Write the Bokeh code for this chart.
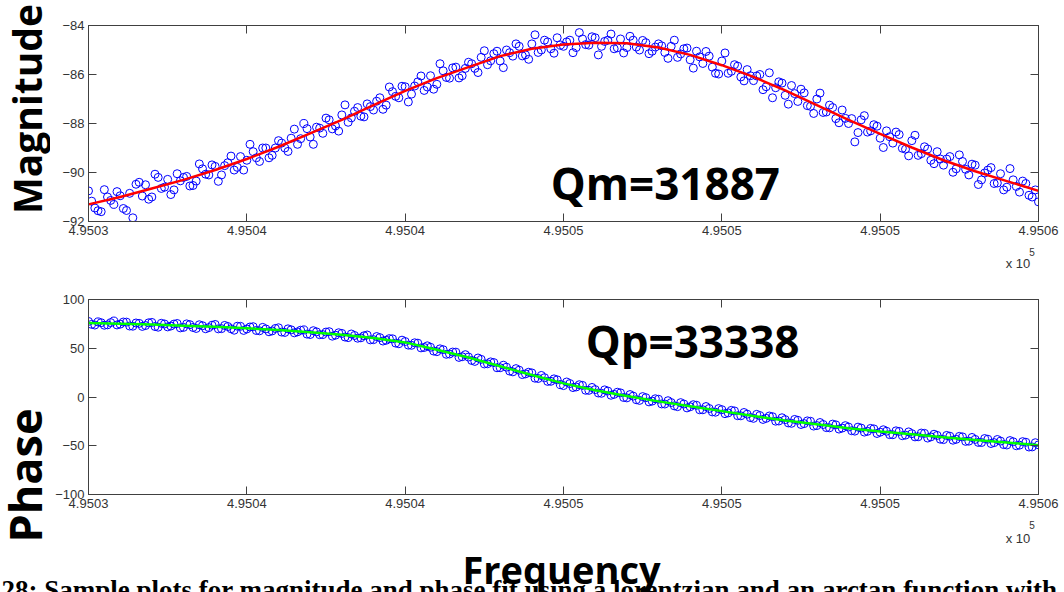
import math
from bokeh.plotting import figure
from bokeh.layouts import column, row
from bokeh.models import FixedTicker, LinearAxis, Label, Range1d
from bokeh.embed import file_html
from bokeh.resources import INLINE

# ---------------- data ----------------
tick_values = [495030, 495035, 495040, 495045, 495050, 495055, 495060]
tick_labels = ["4.9503", "4.9504", "4.9504", "4.9505", "4.9505", "4.9505", "4.9506"]
mag_ticks = [-92, -90, -88, -86, -84]
phase_ticks = [-100, -50, 0, 50, 100]

fit_freq = [495030 + i for i in range(31)]
mag_fit = [-91.30, -91.00, -90.65, -90.30, -89.90, -89.45, -88.95, -88.40, -87.85, -87.25,
           -86.67, -86.15, -85.70, -85.25, -84.95, -84.78, -84.70, -84.72, -84.90, -85.20,
           -85.62, -86.10, -86.65, -87.25, -87.85, -88.42, -88.98, -89.50, -89.95, -90.35,
           -90.75]
phase_fit = [76.0, 75.2, 74.3, 73.2, 72.0, 70.5, 68.7, 66.5, 63.8, 60.5,
             56.0, 48.5, 40.5, 31.5, 22.5, 14.0, 7.0, 1.0, -4.5, -9.5,
             -14.5, -19.5, -24.0, -28.0, -32.0, -35.5, -38.3, -41.3, -44.0, -46.7,
             -49.5]

# measured samples (two interleaved sweeps)
freq_a = [495030 + 0.2 * i for i in range(151)]
freq_b = [495030.1 + 0.2 * i for i in range(150)]

mag_a = [
    -90.75, -91.45, -91.60, -91.00, -91.30, -90.95, -91.55, -91.85, -90.40, -90.50,
    -91.00, -90.20, -90.60, -90.90, -90.05, -90.20, -90.55, -90.35, -89.85, -90.10,
    -89.75, -90.10, -89.60, -89.90, -89.35, -89.50, -89.15, -89.55, -89.00, -89.30,
    -88.70, -89.00, -88.60, -88.85, -88.00, -88.55, -88.15, -88.40, -87.85, -88.10,
    -87.65, -87.95, -87.50, -87.70, -87.20, -87.45, -86.95, -87.25, -86.70, -86.95,
    -86.50, -86.80, -86.30, -86.65, -86.05, -86.40, -85.85, -86.15, -85.70, -86.05,
    -85.50, -85.75, -85.30, -85.60, -85.15, -85.45, -85.00, -85.25, -84.85, -85.20,
    -84.75, -85.10, -84.60, -84.95, -84.50, -84.85, -84.60, -84.90, -84.55, -84.80,
    -84.50, -84.85, -84.60, -84.95, -84.55, -84.90, -84.60, -85.00, -84.70, -85.05,
    -84.75, -85.10, -84.85, -85.30, -84.95, -85.40, -85.05, -85.55, -85.25, -85.95,
    -85.45, -85.95, -85.60, -86.10, -85.80, -86.25, -86.00, -86.50, -86.95, -86.30,
    -86.85, -86.45, -87.10, -86.75, -87.30, -87.00, -87.55, -87.25, -87.80, -87.45,
    -88.00, -88.75, -87.85, -88.35, -88.05, -88.60, -88.30, -88.80, -88.45, -89.05,
    -88.70, -89.30, -88.95, -89.50, -89.15, -89.70, -89.35, -89.85, -89.55, -90.10,
    -89.70, -90.30, -89.90, -90.45, -90.05, -90.60, -90.30, -90.80, -90.45, -91.00,
    -91.20]
mag_b = [
    -91.17, -91.56, -90.70, -91.14, -90.78, -91.47, -90.85, -90.48, -90.96, -91.09,
    -90.07, -90.65, -90.28, -90.71, -90.34, -90.16, -90.53, -89.65, -90.07, -89.69,
    -90.36, -89.72, -89.33, -89.79, -89.90, -88.85, -89.40, -89.00, -89.40, -89.00,
    -88.80, -89.14, -88.23, -88.62, -88.21, -88.85, -88.19, -87.78, -88.22, -88.31,
    -87.24, -87.77, -87.35, -87.73, -87.31, -87.09, -87.42, -86.51, -86.89, -86.48,
    -87.12, -86.47, -86.06, -86.51, -86.60, -85.56, -86.12, -85.73, -86.14, -85.75,
    -85.56, -85.92, -85.03, -85.44, -85.05, -85.72, -85.11, -84.75, -85.24, -85.38,
    -84.38, -85.00, -84.67, -85.13, -84.80, -84.67, -85.11, -84.29, -84.78, -84.46,
    -85.20, -84.65, -84.35, -84.91, -85.12, -84.44, -84.88, -84.61, -85.15, -84.88,
    -84.83, -85.34, -84.60, -85.16, -84.92, -85.74, -85.28, -85.06, -85.70, -85.98,
    -85.12, -85.87, -85.66, -86.26, -86.05, -86.06, -86.62, -85.93, -86.54, -86.35,
    -87.21, -86.78, -86.60, -87.27, -87.59, -86.76, -87.53, -87.35, -87.97, -87.79,
    -87.80, -88.37, -87.68, -88.30, -88.11, -88.98, -88.54, -88.35, -89.01, -89.32,
    -88.48, -89.23, -89.04, -89.64, -89.45, -89.45, -89.99, -89.28, -89.87, -89.66,
    -90.49, -90.02, -89.80, -90.43, -90.71, -89.84, -90.57, -90.35, -90.93, -90.71]

phase_a = [
    77.5, 73.8, 76.2, 74.0, 77.9, 74.7, 76.8, 72.6, 75.5, 73.3,
    76.5, 71.6, 74.9, 72.8, 75.4, 71.4, 74.2, 70.3, 73.1, 71.2,
    74.4, 70.1, 72.3, 68.5, 72.5, 69.8, 72.1, 67.9, 69.8, 67.8,
    71.0, 66.2, 68.9, 66.8, 68.8, 64.1, 66.8, 64.0, 67.0, 63.4,
    65.2, 60.9, 63.1, 60.7, 63.6, 58.8, 60.9, 58.2, 59.7, 54.6,
    56.9, 53.0, 55.2, 50.8, 51.0, 46.5, 48.5, 44.1, 46.0, 41.3,
    41.0, 36.5, 38.6, 34.1, 35.3, 30.0, 30.6, 25.8, 27.5, 23.7,
    24.7, 19.0, 19.8, 16.1, 17.6, 11.7, 13.8, 10.3, 11.9, 6.8,
    7.6, 3.8, 6.1, 2.7, 4.2, -0.9, 0.9, -3.5, -0.7, -4.2,
    -2.3, -7.2, -5.7, -9.9, -7.2, -10.0, -8.5, -13.1, -11.8, -15.6,
    -13.0, -16.3, -14.3, -19.3, -17.6, -21.9, -19.0, -21.9, -20.2, -24.6,
    -23.2, -27.0, -23.9, -27.3, -24.9, -29.3, -28.2, -31.6, -28.6, -31.9,
    -30.8, -35.0, -31.9, -35.2, -32.7, -36.1, -35.1, -38.7, -35.3, -39.1,
    -37.6, -40.8, -37.3, -40.9, -39.4, -43.7, -40.2, -43.4, -40.9, -45.3,
    -43.5, -46.7, -43.3, -46.8, -45.2, -49.2, -45.9, -49.4, -46.4, -51.2,
    -49.1]
phase_b = [
    74.5, 77.0, 73.6, 76.3, 73.9, 76.9, 72.8, 75.9, 72.4, 76.1,
    72.3, 75.6, 71.9, 74.8, 70.9, 75.0, 71.3, 74.1, 70.0, 73.6,
    69.9, 73.4, 70.0, 72.6, 68.3, 71.8, 68.2, 71.4, 66.9, 70.3,
    66.6, 69.9, 65.8, 68.5, 64.5, 68.0, 63.9, 66.6, 62.4, 65.9,
    61.5, 64.6, 60.3, 62.8, 58.6, 62.0, 57.4, 59.9, 55.3, 58.3,
    53.2, 55.6, 50.4, 52.5, 47.1, 49.4, 43.8, 46.1, 40.6, 43.4,
    37.5, 40.0, 33.9, 36.0, 30.0, 32.6, 26.6, 29.1, 23.0, 25.4,
    19.3, 22.1, 16.0, 18.6, 12.7, 15.4, 9.7, 12.6, 6.9, 9.8,
    4.1, 7.3, 1.8, 4.9, -0.5, 2.5, -2.8, 0.4, -5.0, -1.8,
    -7.1, -3.8, -9.1, -5.8, -11.2, -7.9, -13.1, -9.8, -15.3, -11.9,
    -17.1, -13.7, -19.2, -15.9, -21.1, -17.8, -23.0, -19.5, -24.8, -21.3,
    -26.6, -23.0, -28.2, -24.5, -29.8, -26.2, -31.4, -27.8, -32.9, -29.4,
    -34.6, -30.9, -36.0, -32.2, -37.4, -33.6, -38.6, -34.7, -39.7, -35.8,
    -40.9, -37.0, -42.1, -38.2, -43.3, -39.4, -44.3, -40.4, -45.5, -41.5,
    -46.6, -42.6, -47.7, -43.6, -48.8, -44.7, -50.0, -45.8, -51.3, -46.9]

# ---------------- styling helpers ----------------
AX = "#404040"
TICK_FONT = "Liberation Sans"
BIG_FONT = "Open Sans"


def style_axis(ax, show_labels=True):
    ax.axis_line_color = AX
    ax.major_tick_line_color = AX
    ax.major_tick_in = 8
    ax.major_tick_out = 0
    ax.minor_tick_line_color = None
    ax.major_label_text_font = TICK_FONT
    ax.major_label_text_font_size = "13px"
    ax.major_label_text_color = "#333333"
    ax.major_label_standoff = 4 if show_labels else 0


def make_fig(height, ymin, ymax, yticks, top, bottom):
    p = figure(width=1014, height=height,
               x_range=Range1d(495030, 495060), y_range=Range1d(ymin, ymax),
               output_backend="svg", toolbar_location=None,
               min_border_left=38, min_border_right=26,
               min_border_top=top, min_border_bottom=bottom)
    p.xgrid.visible = False
    p.ygrid.visible = False
    p.outline_line_color = AX
    p.background_fill_color = "white"
    p.border_fill_color = "white"
    p.xaxis.ticker = FixedTicker(ticks=tick_values)
    p.yaxis.ticker = FixedTicker(ticks=yticks)
    p.xaxis.major_label_overrides = {v: s for v, s in zip(tick_values, tick_labels)}
    style_axis(p.xaxis[0])
    style_axis(p.yaxis[0])
    top_ax = LinearAxis(ticker=FixedTicker(ticks=tick_values),
                        major_label_overrides={v: "" for v in tick_values})
    right_ax = LinearAxis(ticker=FixedTicker(ticks=yticks),
                          major_label_overrides={v: "" for v in yticks})
    style_axis(top_ax, False)
    style_axis(right_ax, False)
    p.add_layout(top_ax, "above")
    p.add_layout(right_ax, "right")
    return p


def strip(w, h):
    s = figure(width=w, height=h, x_range=Range1d(0, w), y_range=Range1d(0, h),
               min_border=0, toolbar_location=None, output_backend="svg",
               x_axis_location=None, y_axis_location=None)
    s.xgrid.visible = False
    s.ygrid.visible = False
    s.outline_line_color = None
    s.background_fill_color = "white"
    s.border_fill_color = "white"
    return s


def label(p, text, x, y, size, angle=0.0, align="left", baseline="alphabetic",
          font=BIG_FONT, style="bold", color="black"):
    p.add_layout(Label(x=x, y=y, text=text, angle=angle, text_align=align,
                       text_baseline=baseline, text_font=font, text_font_style=style,
                       text_font_size=size, text_color=color))


# ---------------- magnitude ----------------
p1 = make_fig(242, -92, -84, mag_ticks, 25, 21)
p1.scatter(freq_a, mag_a, marker="circle", size=8, fill_color=None,
           line_color="#0000FF", line_width=1)
p1.scatter(freq_b, mag_b, marker="circle", size=8, fill_color=None,
           line_color="#0000FF", line_width=1)
p1.line(fit_freq, mag_fit, line_color="#FF0000", line_width=2.5)
label(p1, "Qm=31887", 495044.6, -90.41, "44px")

# strip between the panels: exponent of panel 1
mid = strip(1014, 33)
label(mid, "x 10", 979, 12.3, "13px", font=TICK_FONT, style="normal", color="#333333")
label(mid, "5", 1004, 24, "10px", font=TICK_FONT, style="normal", color="#333333")

# ---------------- phase ----------------
p2 = make_fig(240, -100, 100, phase_ticks, 24, 21)
p2.scatter(freq_a, phase_a, marker="circle", size=8, fill_color=None,
           line_color="#0000FF", line_width=1)
p2.scatter(freq_b, phase_b, marker="circle", size=8, fill_color=None,
           line_color="#0000FF", line_width=1)
p2.line(fit_freq, phase_fit, line_color="#00FF00", line_width=2.5)
label(p2, "Qp=33338", 495045.7, 57.9, "44px")

# strip under panel 2: exponent
low = strip(1014, 30)
label(low, "x 10", 979, 7.3, "13px", font=TICK_FONT, style="normal", color="#333333")
label(low, "5", 1004, 21, "10px", font=TICK_FONT, style="normal", color="#333333")

# left strip: y titles
left = strip(50, 545)
label(left, "Magnitude", 26, 436.5, "39px", angle=math.pi / 2, align="center", baseline="middle")
label(left, "Phase", 23.5, 70, "45px", angle=math.pi / 2, align="center", baseline="middle")

# bottom strip: x title, caption
bottom = strip(1064, 47)
label(bottom, "Frequency", 462, 23.6, "38px")
label(bottom, "28: Sample plots for magnitude and phase fit using a lorentzian and an arctan function with",
      1, 2.5, "27px", font="Liberation Serif")

layout = column(row(left, column(p1, mid, p2, low, spacing=0), spacing=0), bottom, spacing=0)
open("out.html", "w").write(file_html(layout, INLINE))
